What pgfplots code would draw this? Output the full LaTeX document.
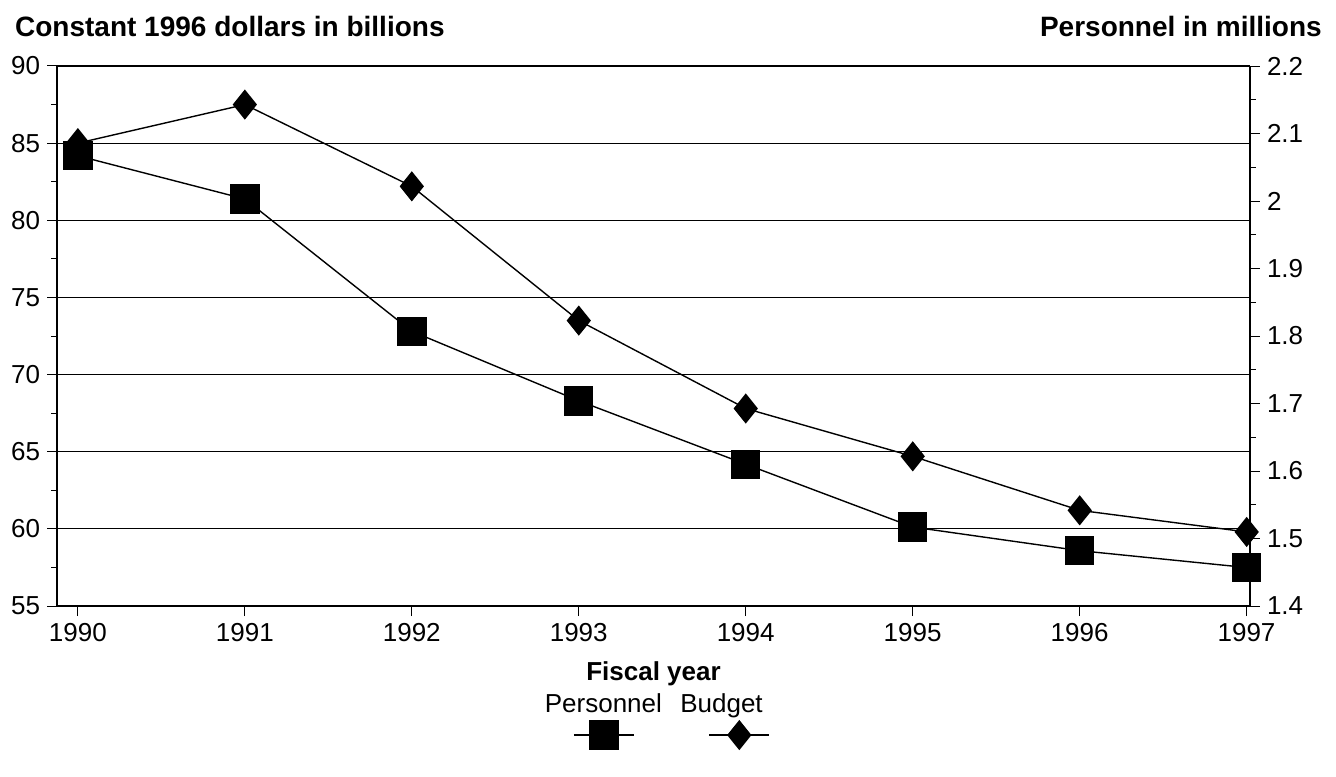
\documentclass[border=0pt]{standalone}
\usepackage{pgfplots}
\pgfplotsset{compat=1.18}
\usepackage{fontspec}
\setmainfont{Liberation Sans}
\begin{document}
\begin{tikzpicture}[x=1pt,y=1pt]
\path[use as bounding box] (-28.5,-85) rectangle (639.5,303);
\pgfplotsset{every axis/.style={scale only axis,width=596.5pt,height=270pt,
  xmin=1989.875,xmax=1997.02,font=\fontsize{13}{15}\selectfont,
  /pgf/number format/assume math mode=true,tick style={black,line width=0.5pt},
  major tick length=5pt,minor tick length=3pt}}
\begin{axis}[
  at={(0,0)},anchor=south west,
  ymin=55,ymax=90,ytick={55,60,...,90},minor y tick num=1,
  axis y line*=left,axis x line*=bottom,
  xtick={1990,...,1997},xticklabel style={/pgf/number format/1000 sep={}},
  tick align=outside,
  ymajorgrids,grid style={black,line width=0.5pt},
  xlabel={\bfseries Fiscal year},xlabel style={yshift=-3pt},
  axis line style={line width=0.6pt},
  clip=false]
\addplot[black,line width=0.7pt,mark=diamond*,mark size=7pt,mark options={fill=black,xscale=1.07}]
 coordinates {(1990,85.0)(1991,87.5)(1992,82.2)(1993,73.5)(1994,67.8)(1995,64.7)(1996,61.2)(1997,59.8)};
\node[anchor=west,font=\bfseries\fontsize{14}{16}\selectfont] at (rel axis cs:-0.041,1.073) {Constant 1996 dollars in billions};
\node[anchor=east,font=\bfseries\fontsize{14}{16}\selectfont] at (rel axis cs:1.066,1.073) {Personnel in millions};
\node[anchor=base,font=\fontsize{13}{15}\selectfont] at (rel axis cs:0.458,-0.198) {Personnel};
\node[anchor=base,font=\fontsize{13}{15}\selectfont] at (rel axis cs:0.557,-0.198) {Budget};
\end{axis}
\begin{axis}[
  at={(0,0)},anchor=south west,
  ymin=1.4,ymax=2.2,ytick={1.4,1.5,...,2.2},minor y tick num=1,
  yticklabel style={/pgf/number format/fixed,/pgf/number format/precision=1},
  axis y line*=right,axis x line*=top,xtick=\empty,tick align=outside,
  axis line style={line width=0.6pt},
  legend style={draw=none,fill=none,at={(rel axis cs:0.516,-0.239)},anchor=center,
    legend columns=2,/tikz/every even column/.append style={column sep=36pt},
    inner sep=0pt,nodes={inner sep=0pt}},
  legend image code/.code={\draw[#1,mark repeat=2,mark phase=2] plot coordinates{(-15pt,0)(0pt,0)(15pt,0)};},
  clip=false]
\addplot[black,line width=0.7pt,mark=square*,mark size=7pt,mark options={fill=black}]
 coordinates {(1990,2.067)(1991,2.003)(1992,1.807)(1993,1.704)(1994,1.610)(1995,1.517)(1996,1.482)(1997,1.457)};
\addlegendentry{}
\addlegendimage{black,line width=0.7pt,mark=diamond*,mark size=7pt,mark options={fill=black,xscale=1.07}}
\addlegendentry{}
\end{axis}
\end{tikzpicture}
\end{document}
